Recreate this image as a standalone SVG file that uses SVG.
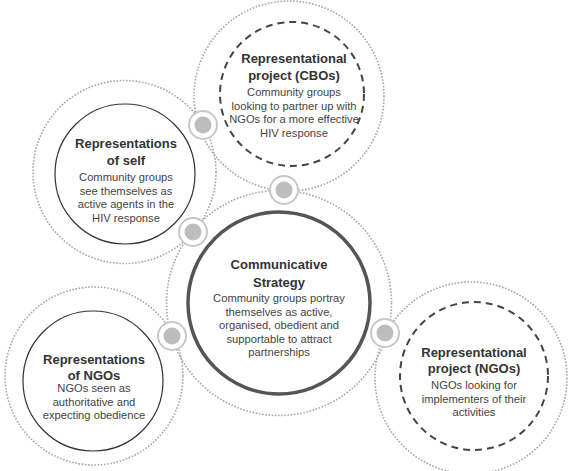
<svg xmlns="http://www.w3.org/2000/svg" width="569" height="471" viewBox="0 0 569 471">
<style>
.halo{fill:none;stroke:#a6a6a6;stroke-width:1.6;stroke-dasharray:1.6 1.6}
.solid{fill:#fff;stroke:#333;stroke-width:1.2}
.dash{fill:#fff;stroke:#444;stroke-width:2;stroke-dasharray:7 5}
.thick{fill:#fff;stroke:#555;stroke-width:3.5}
.ring{fill:#fff;stroke:#c8c8c8;stroke-width:2}
.dot{fill:#bdbdbd}
.t{font-family:"Liberation Sans",Arial,sans-serif;font-size:13px;font-weight:bold;fill:#333;text-anchor:middle}
.b{font-family:"Liberation Sans",Arial,sans-serif;font-size:11.2px;fill:#444;text-anchor:middle}
</style>
<rect width="569" height="471" fill="#fff"/>
<g id="halos">
<circle class="halo" cx="289" cy="96" r="95"/>
<circle class="halo" cx="124.5" cy="172" r="91.5"/>
<circle class="halo" cx="279" cy="303" r="112.5"/>
<circle class="halo" cx="94" cy="376" r="89"/>
<circle class="halo" cx="471" cy="378" r="96"/>
</g>
<g id="node-cbo">
<circle class="dash" cx="292" cy="94" r="72"/>
<text class="t" x="294" y="62.5">Representational</text>
<text class="t" x="294" y="80">project (CBOs)</text>
<text class="b" x="294" y="96">Community groups</text>
<text class="b" x="294" y="110">looking to partner up with</text>
<text class="b" x="294" y="123">NGOs for a more effective</text>
<text class="b" x="294" y="137">HIV response</text>
</g>
<g id="node-self">
<circle class="solid" cx="125" cy="174" r="70"/>
<text class="t" x="126" y="147.5">Representations</text>
<text class="t" x="126" y="164.5">of self</text>
<text class="b" x="126" y="181">Community groups</text>
<text class="b" x="126" y="194.5">see themselves as</text>
<text class="b" x="126" y="208">active agents in the</text>
<text class="b" x="126" y="221.5">HIV response</text>
</g>
<g id="node-strategy">
<circle class="thick" cx="279" cy="303" r="91"/>
<text class="t" x="279" y="268.5">Communicative</text>
<text class="t" x="279" y="286.5">Strategy</text>
<text class="b" x="279" y="302">Community groups portray</text>
<text class="b" x="279" y="315.5">themselves as active,</text>
<text class="b" x="279" y="329">organised, obedient and</text>
<text class="b" x="279" y="342.5">supportable to attract</text>
<text class="b" x="279" y="356">partnerships</text>
</g>
<g id="node-ngos-rep">
<circle class="solid" cx="93" cy="381" r="70"/>
<text class="t" x="94" y="363.5">Representations</text>
<text class="t" x="94" y="379.5">of NGOs</text>
<text class="b" x="94" y="392">NGOs seen as</text>
<text class="b" x="94" y="405.5">authoritative and</text>
<text class="b" x="94" y="419">expecting obedience</text>
</g>
<g id="node-ngos-project">
<circle class="dash" cx="474" cy="376" r="74"/>
<text class="t" x="474" y="356.5">Representational</text>
<text class="t" x="474" y="372.5">project (NGOs)</text>
<text class="b" x="474" y="389">NGOs looking for</text>
<text class="b" x="474" y="402.5">implementers of their</text>
<text class="b" x="474" y="416">activities</text>
</g>
<g id="connectors">
<circle class="ring" cx="203" cy="125" r="14"/><circle class="dot" cx="203" cy="125" r="8.5"/>
<circle class="ring" cx="284" cy="190" r="14"/><circle class="dot" cx="284" cy="190" r="8.5"/>
<circle class="ring" cx="193" cy="232" r="14"/><circle class="dot" cx="193" cy="232" r="8.5"/>
<circle class="ring" cx="172" cy="336" r="14"/><circle class="dot" cx="172" cy="336" r="8.5"/>
<circle class="ring" cx="385" cy="333" r="14"/><circle class="dot" cx="385" cy="333" r="8.5"/>
</g>
</svg>
